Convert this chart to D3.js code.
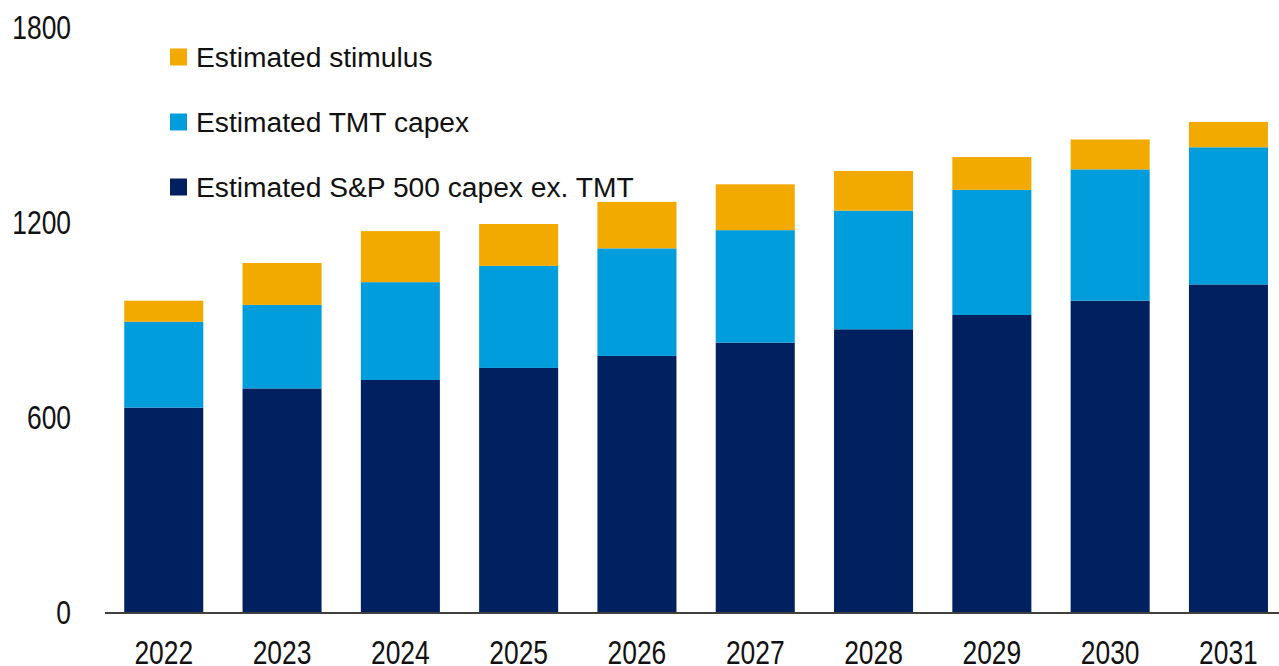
<!DOCTYPE html>
<html><head><meta charset="utf-8">
<script src="https://cdn.jsdelivr.net/npm/d3@7"></script>
<style>body{margin:0;background:#fff}svg{display:block}text{font-family:"Liberation Sans",Arial,sans-serif;fill:#111}</style>
</head><body>
<svg id="c" width="1279" height="666"></svg>
<script>
const years = ["2022","2023","2024","2025","2026","2027","2028","2029","2030","2031"];
const spExTMT = [632, 691, 717, 754, 791, 832, 873, 917, 961, 1011];
const tmtCapex = [264, 257, 301, 314, 331, 346, 365, 385, 404, 422];
const stimulus = [65, 129, 157, 129, 143, 141, 122, 101, 92, 78];
const yTicks = [0, 600, 1200, 1800];
const seriesNames = ["Estimated S&P 500 capex ex. TMT", "Estimated TMT capex", "Estimated stimulus"];
const seriesColors = ["#002060", "#009DDC", "#F2A900"];

const svg = d3.select("#c");
const x = d3.scaleBand().domain(years).range([104.6, 1287.6]).paddingInner(0.332).paddingOuter(0.166);
const y = d3.scaleLinear().domain([0, 1800]).range([613, 28]);

const rows = years.map((yr, i) => ({year: yr, s0: spExTMT[i], s1: tmtCapex[i], s2: stimulus[i]}));
const stack = d3.stack().keys(["s0","s1","s2"])(rows);

svg.selectAll("g.layer").data(stack).join("g").attr("class","layer")
  .attr("fill", (d,i) => seriesColors[i])
  .selectAll("rect").data(d => d).join("rect")
  .attr("x", d => x(d.data.year))
  .attr("width", x.bandwidth())
  .attr("y", d => y(d[1]))
  .attr("height", d => y(d[0]) - y(d[1]));

// baseline axis
svg.append("line").attr("x1", 105).attr("x2", 1279).attr("y1", y(0)).attr("y2", y(0))
  .attr("stroke", "#404040").attr("stroke-width", 2);

const tickFont = 33;
// y tick labels
const yAxis = d3.axisLeft(y).tickValues(yTicks).tickFormat(d3.format("d")).tickSize(0).tickPadding(0);
const gy = svg.append("g").attr("transform", "translate(71,0)").call(yAxis);
gy.select(".domain").remove();
gy.selectAll("text").attr("font-size", tickFont).attr("fill", "#111")
  .attr("font-family", '"Liberation Sans", Arial, sans-serif')
  .attr("x", 0).attr("dy", "0.31em").attr("transform", "scale(0.8,1)");

// x tick labels
const xAxis = d3.axisBottom(x).tickSize(0).tickPadding(0);
const gx = svg.append("g").attr("transform", `translate(0,${y(0)})`).call(xAxis);
gx.select(".domain").remove();
gx.selectAll("text").attr("font-size", tickFont).attr("fill", "#111")
  .attr("font-family", '"Liberation Sans", Arial, sans-serif')
  .attr("dy", null).attr("y", 51).attr("transform", "scale(0.8,1)");

// legend
const legendOrder = [2, 1, 0];
const lg = svg.append("g");
legendOrder.forEach((si, k) => {
  const cy = 57 + k * 65;
  lg.append("rect").attr("x", 170).attr("y", cy - 8.5).attr("width", 17).attr("height", 17).attr("fill", seriesColors[si]);
  lg.append("text").attr("x", 196).attr("y", cy).attr("dy", "0.36em").attr("font-size", 28.2).text(seriesNames[si]);
});
</script>
</body></html>
